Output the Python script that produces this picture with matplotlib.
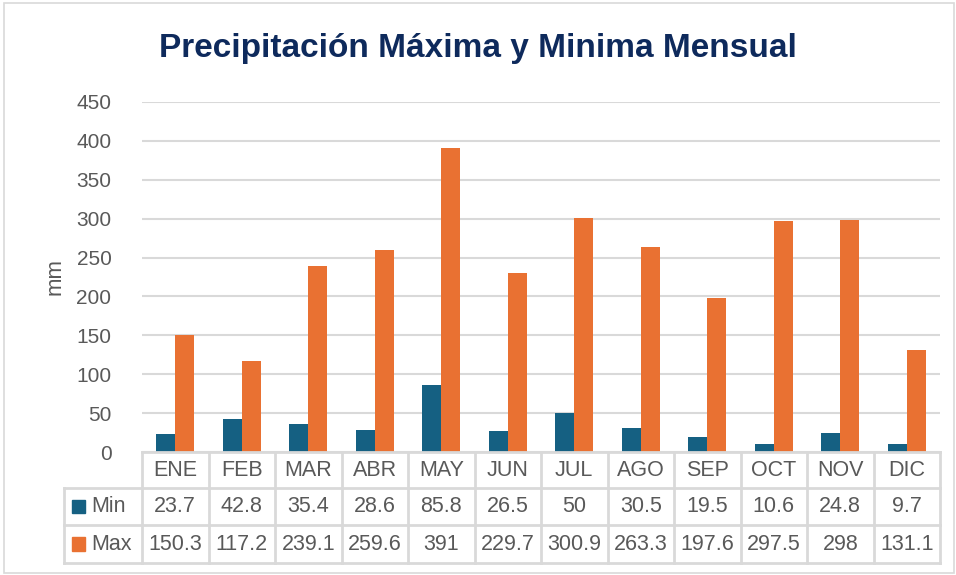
import numpy as np
import matplotlib.pyplot as plt

plt.rcParams['font.family'] = ['Liberation Sans', 'DejaVu Sans']

meses = ['ENE', 'FEB', 'MAR', 'ABR', 'MAY', 'JUN', 'JUL', 'AGO', 'SEP', 'OCT', 'NOV', 'DIC']
p_min = [23.7, 42.8, 35.4, 28.6, 85.8, 26.5, 50, 30.5, 19.5, 10.6, 24.8, 9.7]
p_max = [150.3, 117.2, 239.1, 259.6, 391, 229.7, 300.9, 263.3, 197.6, 297.5, 298, 131.1]
series = ['Min', 'Max']
colores = ['#156082', '#E97132']

W, H = 956, 575
gris = '#d9d9d9'
texto = '#595959'

fig = plt.figure(figsize=(W / 100, H / 100), dpi=100)
fig.patches.append(plt.Rectangle((4 / W, 2 / H), 950 / W, 570 / H, transform=fig.transFigure,
                                 fill=False, edgecolor=gris, lw=1.2))

x0, x1 = 142, 940
y_top, y_zero = 102, 452
ax = fig.add_axes([x0 / W, 1 - y_zero / H, (x1 - x0) / W, (y_zero - y_top) / H])
x = np.arange(len(meses)) + 0.5
bw = 0.285
ax.bar(x - bw / 2, p_min, bw, color=colores[0], zorder=3)
ax.bar(x + bw / 2, p_max, bw, color=colores[1], zorder=3)
ax.set_xlim(0, 12)
ax.set_ylim(0, 450)
ax.set_yticks(range(0, 451, 50))
ax.yaxis.grid(True, color=gris, lw=1.5, zorder=0)
ax.set_xticks([])
for s in ax.spines.values():
    s.set_visible(False)
ax.tick_params(axis='y', length=0, pad=22, labelsize=15, labelcolor=texto)
ax.set_ylabel('mm', fontsize=16, color=texto, labelpad=8)

fig.text(0.5, 1 - 48 / H, 'Precipitación Máxima y Minima Mensual', ha='center', va='center',
         fontsize=24, fontweight='bold', color='#0e2a5c',
         family=['Liberation Sans Narrow', 'Liberation Sans', 'DejaVu Sans'])

# tabla de datos
tl, tb = 64, 563
cw = (x1 - x0) / 12.0
L = (x0 - tl) / cw
tab = fig.add_axes([tl / W, 1 - tb / H, (x1 - tl) / W, (tb - y_zero) / H])
tab.set_xlim(-L, 12)
tab.set_ylim(3, 0)
tab.axis('off')
r1, r2 = (488 - y_zero) / (tb - y_zero) * 3, (525 - y_zero) / (tb - y_zero) * 3
kw = dict(color=gris, lw=2, clip_on=False)
tab.plot([0, 12], [0, 0], **kw)
tab.plot([-L, 12], [r1, r1], **kw)
tab.plot([-L, 12], [r2, r2], **kw)
tab.plot([-L, 12], [3, 3], **kw)
tab.plot([-L, -L], [r1, 3], **kw)
for i in range(13):
    tab.plot([i, i], [0, 3], **kw)
fs = 15.5
for i, m in enumerate(meses):
    tab.text(i + 0.5, r1 / 2, m, ha='center', va='center', fontsize=fs, color=texto)
    tab.text(i + 0.5, (r1 + r2) / 2, f'{p_min[i]:g}', ha='center', va='center', fontsize=fs, color=texto)
    tab.text(i + 0.5, (r2 + 3) / 2, f'{p_max[i]:g}', ha='center', va='center', fontsize=fs, color=texto)
for k, (nom, col) in enumerate(zip(series, colores)):
    yc = (r1 + r2) / 2 if k == 0 else (r2 + 3) / 2
    tab.add_patch(plt.Rectangle((-L + 8 / cw, yc - 0.18), 13 / cw, 0.36, color=col, clip_on=False))
    tab.text(-L + 27 / cw, yc, nom, ha='left', va='center', fontsize=fs, color=texto)

fig.savefig('out.png', dpi=100)
